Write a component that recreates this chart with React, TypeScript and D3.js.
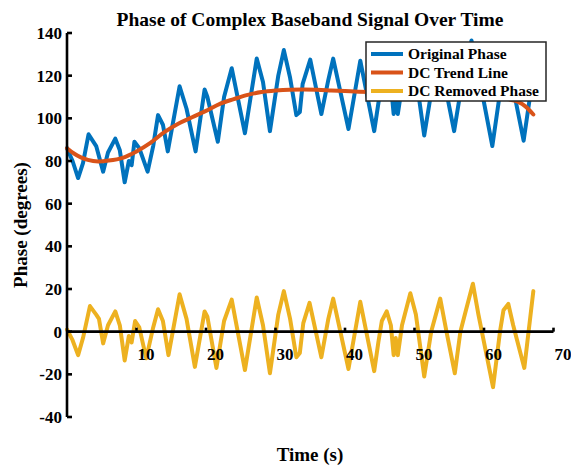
import React from "react";
import * as d3 from "d3";

// time stamps (s) and phase (degrees)
const removedTime = [0, 0.8, 1.6, 2.3, 3.3, 4.2, 4.6, 5.2, 5.9, 6.95, 7.6, 8.3, 8.9, 9.3, 9.8, 10.4, 11.4, 12.4, 13.1, 13.8, 14.6, 16.2, 17.2, 18.4, 19.8, 20.2, 21.5, 22.6, 23.7, 25.6, 27.3, 28.2, 29.2, 30.4, 31.2, 32.1, 33.0, 33.5, 34.0, 34.9, 36.6, 37.6, 38.3, 40.5, 42.2, 44.2, 44.8, 45.3, 46.0, 46.6, 47.0, 47.3, 47.6, 48.2, 49.4, 50.2, 51.4, 52.4, 53.7, 54.6, 55.8, 56.6, 57.4, 58.4, 59.2, 61.3, 62.3, 62.8, 63.5, 64.2, 65.8, 67.1];
const removedPhase = [1, -4, -11, -3, 12, 8, 6, -5.5, 3, 9.5, 3, -13.5, -2, -5, 5, 2, -12.5, 2, 10.5, 5, -11, 17.5, 6, -16.5, 9.5, 7, -17, 5, 15, -18, 16, 3, -19.5, 8, 19, 6, -12, -10, 4, 13.5, -12, 6, 15.5, -17.5, 14, -18.5, -5, 5, 9.5, 3, -11, -3, -11, 3, 18, 8, -21, 0, 15.5, 0, -19.5, 0, 10, 22.5, 8, -26, 0, 10, 13, 3, -17, 19];

const originalTime = [0, 0.8, 1.6, 2.3, 3.1, 4.2, 5.2, 5.9, 6.95, 7.6, 8.3, 8.9, 9.3, 9.7, 10.4, 11.6, 12.4, 13.1, 13.8, 14.5, 16.2, 17.2, 18.5, 19.8, 20.2, 21.7, 22.6, 23.7, 25.6, 27.3, 28.2, 29.2, 30.4, 31.2, 32.1, 33.0, 33.5, 33.9, 35.0, 36.6, 37.6, 38.3, 40.5, 42.2, 44.2, 44.8, 45.3, 46.0, 46.6, 47.0, 47.3, 47.6, 48.2, 49.4, 50.2, 51.4, 52.4, 53.7, 54.6, 55.7, 56.6, 57.4, 58.2, 59.2, 61.2, 62.3, 62.8, 63.5, 64.2, 65.7, 67.1];
const originalPhase = [86, 80, 72, 79, 92.5, 87, 75, 84, 90.5, 85, 70, 80, 78, 89, 86, 75, 87, 101.5, 97, 84.5, 115, 104.5, 84.5, 113.5, 110, 89, 110, 123.5, 93, 128, 117, 94, 120, 132, 119, 101.5, 103, 116, 127.5, 102, 118, 128, 95, 127, 94, 107, 117, 122, 116, 102, 109, 102, 115, 130, 120, 92, 112, 127.5, 112, 94, 112, 124, 136.5, 121, 87, 112, 122, 124, 114, 89.5, 121];

const trendTime = [0, 1, 2, 3, 4.5, 6, 8, 10, 12, 14, 16, 18, 20, 22, 24, 26, 28, 30, 32, 34, 36, 38, 40, 42, 44, 46, 48, 50, 52, 54, 56, 58, 60, 62, 63, 64, 65, 66, 67.1];
const trendPhase = [86, 83.5, 81.7, 80.5, 79.8, 80.2, 81.5, 84.5, 88.5, 93.5, 97.5, 100.5, 103.5, 106.8, 109, 111, 112.3, 113, 113.4, 113.5, 113.4, 113.1, 112.8, 112.5, 112.3, 112.2, 112.1, 112, 112, 111.9, 111.8, 111.6, 111, 110, 109.3, 108.6, 107.6, 105.5, 101.8];

const xTicks = [10, 20, 30, 40, 50, 60, 70];
const yTicks = [-40, -20, 0, 20, 40, 60, 80, 100, 120, 140];

const seriesNames = ["Original Phase", "DC Trend Line", "DC Removed Phase"];
const seriesColors = ["#0072BD", "#D95319", "#EDB120"];

const FONT = "'Liberation Serif', 'Times New Roman', serif";

export default function App() {
  const svgRef = React.useRef<SVGSVGElement>(null);
  const width = 571;
  const height = 466;

  React.useEffect(() => {
    const svg = d3.select(svgRef.current);
    svg.selectAll("*").remove();

    const x = d3.scaleLinear().domain([0, 70]).range([67, 553.5]);
    const y = d3.scaleLinear().domain([-40, 140]).range([417, 33]);

    const series = [
      originalTime.map((t, i) => [t, originalPhase[i]]),
      trendTime.map((t, i) => [t, trendPhase[i]]),
      removedTime.map((t, i) => [t, removedPhase[i]]),
    ];

    const line = d3
      .line<number[]>()
      .x((d) => x(d[0]))
      .y((d) => y(d[1]));

    const trendLine = d3
      .line<number[]>()
      .x((d) => x(d[0]))
      .y((d) => y(d[1]))
      .curve(d3.curveMonotoneX);

    /* data lines */
    series.forEach((s, i) => {
      svg
        .append("path")
        .attr("d", i === 1 ? trendLine(s) : line(s))
        .attr("fill", "none")
        .attr("stroke", seriesColors[i])
        .attr("stroke-width", 4)
        .attr("stroke-linejoin", "round")
        .attr("stroke-linecap", "round");
    });

    /* axes through the origin */
    const axes = svg.append("g").attr("stroke", "#000").attr("stroke-width", 2.6);
    axes.append("line").attr("x1", x(0)).attr("x2", x(0)).attr("y1", y(-40)).attr("y2", y(140));
    axes.append("line").attr("x1", x(0)).attr("x2", x(70)).attr("y1", y(0)).attr("y2", y(0));

    yTicks.forEach((v) => {
      axes.append("line").attr("x1", x(0)).attr("x2", x(0) + 5).attr("y1", y(v)).attr("y2", y(v));
      svg
        .append("text")
        .attr("x", x(0) - 5)
        .attr("y", y(v))
        .attr("dy", "0.35em")
        .attr("text-anchor", "end")
        .attr("font-family", FONT)
        .attr("font-weight", "bold")
        .attr("font-size", 17)
        .text(v);
    });

    xTicks.forEach((v) => {
      axes.append("line").attr("x1", x(v)).attr("x2", x(v)).attr("y1", y(0)).attr("y2", y(0) - 4);
      svg
        .append("text")
        .attr("x", x(v) + 1)
        .attr("y", 360)
        .attr("text-anchor", "start")
        .attr("font-family", FONT)
        .attr("font-weight", "bold")
        .attr("font-size", 17)
        .text(v);
    });

    /* title and axis labels */
    svg
      .append("text")
      .attr("x", 310)
      .attr("y", 26)
      .attr("text-anchor", "middle")
      .attr("font-family", FONT)
      .attr("font-weight", "bold")
      .attr("font-size", 19.5)
      .text("Phase of Complex Baseband Signal Over Time");

    svg
      .append("text")
      .attr("x", 310)
      .attr("y", 461)
      .attr("text-anchor", "middle")
      .attr("font-family", FONT)
      .attr("font-weight", "bold")
      .attr("font-size", 19)
      .text("Time (s)");

    svg
      .append("text")
      .attr("transform", "translate(27, 225) rotate(-90)")
      .attr("text-anchor", "middle")
      .attr("font-family", FONT)
      .attr("font-weight", "bold")
      .attr("font-size", 19)
      .text("Phase (degrees)");

    /* legend */
    const legend = svg.append("g").attr("transform", "translate(366, 42)");
    legend
      .append("rect")
      .attr("width", 180)
      .attr("height", 59)
      .attr("fill", "#fff")
      .attr("stroke", "#262626")
      .attr("stroke-width", 1.5);

    seriesNames.forEach((name, i) => {
      const cy = 12 + i * 18.5;
      legend
        .append("line")
        .attr("x1", 5)
        .attr("x2", 37)
        .attr("y1", cy)
        .attr("y2", cy)
        .attr("stroke", seriesColors[i])
        .attr("stroke-width", 4);
      legend
        .append("text")
        .attr("x", 42)
        .attr("y", cy)
        .attr("dy", "0.33em")
        .attr("font-family", FONT)
        .attr("font-weight", "bold")
        .attr("font-size", 15.5)
        .text(name);
    });
  }, []);

  return (
    <svg
      ref={svgRef}
      width={width}
      height={height}
      style={{ position: "absolute", left: 0, top: 0, background: "#fff" }}
    />
  );
}
